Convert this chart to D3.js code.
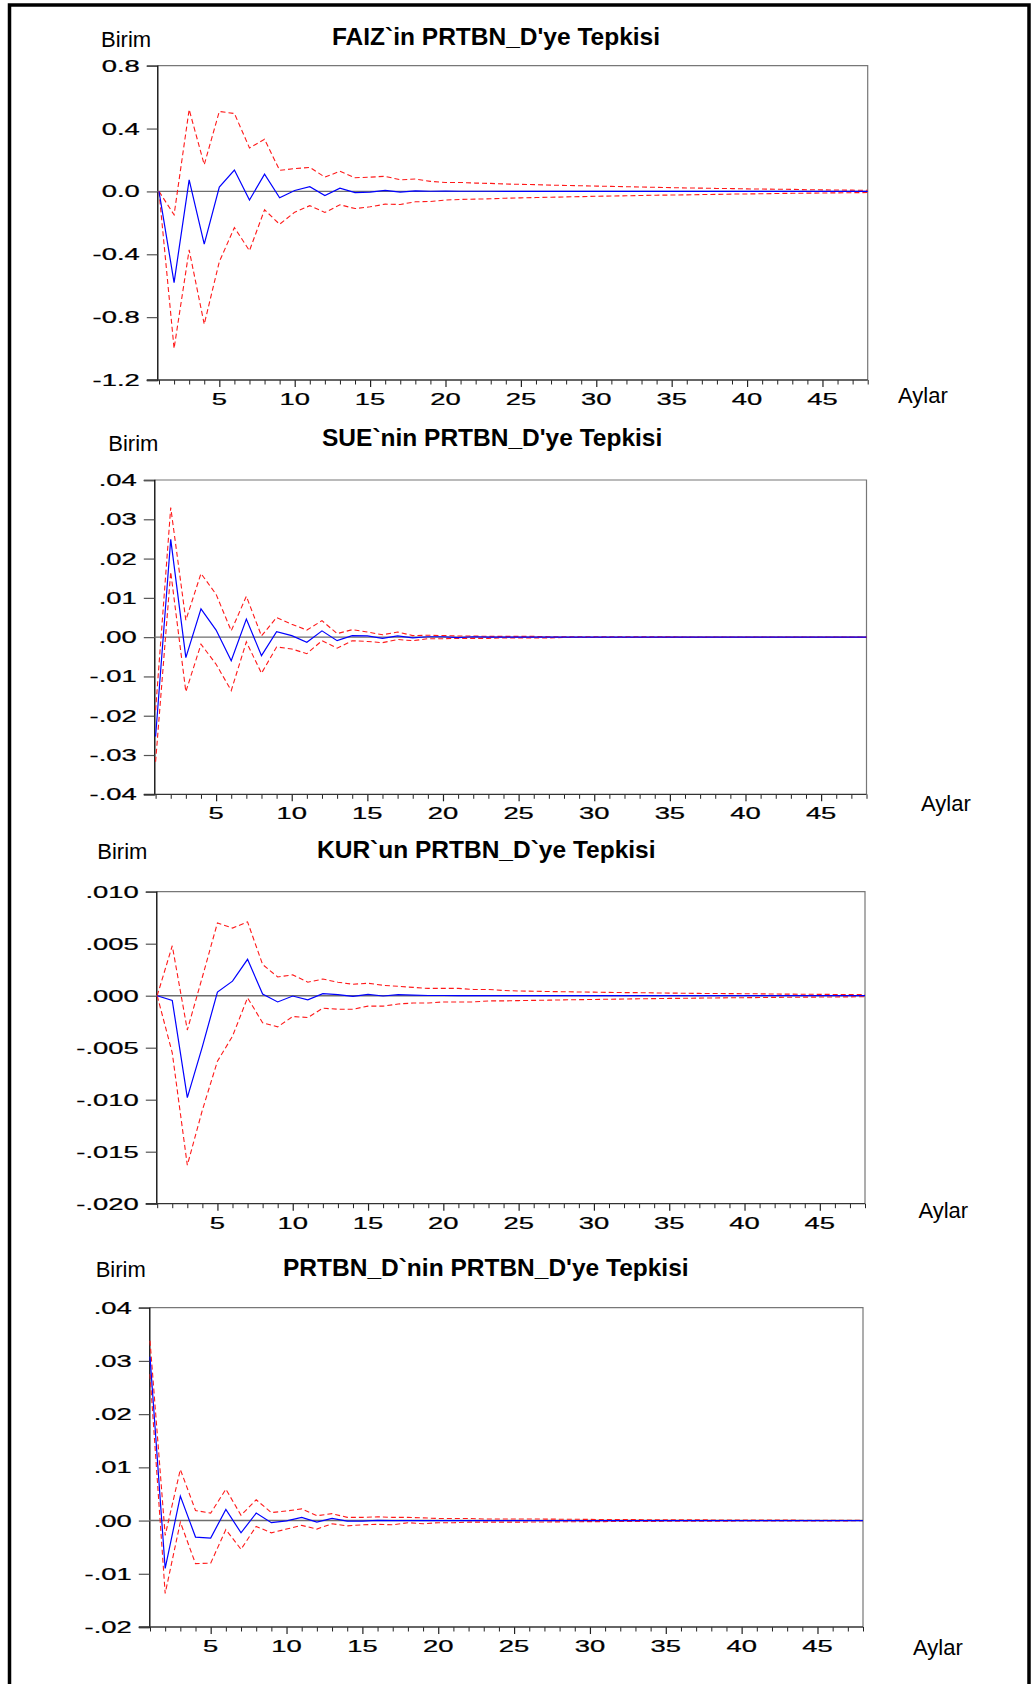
<!DOCTYPE html>
<html>
<head>
<meta charset="utf-8">
<script src="https://cdn.jsdelivr.net/npm/d3@7"></script>
<style>
  html, body { margin: 0; padding: 0; background: #fff; }
  svg { display: block; }
</style>
</head>
<body>
<svg id="chart" width="1035" height="1684"></svg>
<script>
// ---------------- DATA ----------------
const periods = [1,2,3,4,5,6,7,8,9,10,11,12,13,14,15,16,17,18,19,20,21,22,23,24,
                 25,26,27,28,29,30,31,32,33,34,35,36,37,38,39,40,41,42,43,44,45,46,47,48];
const xTickValues = [5,10,15,20,25,30,35,40,45];

const titles = ["FAIZ`in PRTBN_D'ye Tepkisi", "SUE`nin PRTBN_D'ye Tepkisi",
                "KUR`un PRTBN_D`ye Tepkisi", "PRTBN_D`nin PRTBN_D'ye Tepkisi"];
const yUnitLabel = "Birim";
const xUnitLabel = "Aylar";

// Panel 1: FAIZ
const faizTicks = [0.8, 0.4, 0.0, -0.4, -0.8, -1.2];
const faizTickLabels = ["0.8", "0.4", "0.0", "-0.4", "-0.8", "-1.2"];
const faizResp = [0, -0.58, 0.074, -0.336, 0.028, 0.136, -0.055, 0.11, -0.04, 0.006, 0.03, -0.026,
  0.021, -0.008, -0.004, 0.006, -0.004, 0.004, 0.001, 0.002, 0.001, 0.001, 0.001, 0.0005,
  0.0005, 0.0004, 0.0004, 0.0003, 0.0003, 0.0003, 0.0002, 0.0002, 0.0002, 0.0002, 0.0001, 0.0001,
  0.0001, 0.0001, 0.0001, 0.0001, 0.0001, 0, 0, 0, 0, 0, 0, 0];
const faizUpper = [0, -0.149, 0.521, 0.17, 0.509, 0.496, 0.277, 0.332, 0.134, 0.145, 0.153, 0.091,
  0.128, 0.087, 0.091, 0.096, 0.074, 0.079, 0.064, 0.057, 0.057, 0.053, 0.051, 0.047,
  0.045, 0.043, 0.040, 0.038, 0.036, 0.034, 0.032, 0.030, 0.028, 0.026, 0.024, 0.022,
  0.021, 0.019, 0.018, 0.016, 0.015, 0.014, 0.013, 0.011, 0.010, 0.009, 0.008, 0.007];
const faizLower = [0, -1.0, -0.372, -0.845, -0.447, -0.23, -0.377, -0.117, -0.209, -0.132, -0.091, -0.134,
  -0.085, -0.109, -0.098, -0.081, -0.083, -0.066, -0.064, -0.055, -0.051, -0.049, -0.047, -0.043,
  -0.041, -0.039, -0.037, -0.035, -0.033, -0.031, -0.029, -0.028, -0.026, -0.024, -0.023, -0.022,
  -0.020, -0.019, -0.017, -0.016, -0.015, -0.013, -0.012, -0.011, -0.010, -0.009, -0.008, -0.007];

// Panel 2: SUE
const sueTicks = [0.04, 0.03, 0.02, 0.01, 0.0, -0.01, -0.02, -0.03, -0.04];
const sueTickLabels = [".04", ".03", ".02", ".01", ".00", "-.01", "-.02", "-.03", "-.04"];
const sueResp = [-0.0253, 0.0249, -0.0052, 0.0072, 0.0018, -0.006, 0.0046, -0.0047, 0.0014, 0.0004, -0.0013, 0.0016,
  -0.0009, 0.0004, 0.0003, -0.0003, 0.0003, -0.0002, 0.0001, 0.0001, -0.0001, 0.0001, 0, 0,
  0, 0, 0, 0, 0, 0, 0, 0, 0, 0, 0, 0, 0, 0, 0, 0, 0, 0, 0, 0, 0, 0, 0, 0];
const sueUpper = [-0.0186, 0.033, 0.0043, 0.0162, 0.0109, 0.0016, 0.0104, 0.0003, 0.005, 0.0033, 0.0018, 0.0042,
  0.0009, 0.0019, 0.0013, 0.0006, 0.0013, 0.0004, 0.0005, 0.0004, 0.0003, 0.0003, 0.0002, 0.0002,
  0.0002, 0.0002, 0.0001, 0.0001, 0.0001, 0.0001, 0.0001, 0.0001, 0.00008, 0.00007, 0.00006, 0.00005,
  0.00005, 0.00004, 0.00004, 0.00003, 0.00003, 0.00003, 0.00002, 0.00002, 0.00002, 0.00002, 0.00001, 0.00001];
const sueLower = [-0.0317, 0.0166, -0.0139, -0.0018, -0.0069, -0.0136, -0.0012, -0.0092, -0.0025, -0.003, -0.0042, -0.0009,
  -0.0028, -0.0009, -0.0011, -0.0014, -0.0006, -0.0009, -0.0004, -0.0004, -0.0003, -0.0003, -0.0003, -0.0002,
  -0.0002, -0.0002, -0.0002, -0.0001, -0.0001, -0.0001, -0.0001, -0.0001, -0.00008, -0.00007, -0.00006, -0.00005,
  -0.00005, -0.00004, -0.00004, -0.00003, -0.00003, -0.00003, -0.00002, -0.00002, -0.00002, -0.00002, -0.00001, -0.00001];

// Panel 3: KUR
const kurTicks = [0.010, 0.005, 0.0, -0.005, -0.010, -0.015, -0.020];
const kurTickLabels = [".010", ".005", ".000", "-.005", "-.010", "-.015", "-.020"];
const kurResp = [0, -0.00045, -0.0098, -0.0049, 0.00035, 0.0014, 0.0035, 0.00016, -0.0006, -0.00003, -0.0004, 0.0002,
  0.0001, -0.00006, 0.00013, -0.00003, 0.0001, 0.00006, 0.00002, 0.00002, 0.00001, 0.00001, 0, 0,
  0, 0, 0, 0, 0, 0, 0, 0, 0, 0, 0, 0, 0, 0, 0, 0, 0, 0, 0, 0, 0, 0, 0, 0];
const kurUpper = [0, 0.0048, -0.0033, 0.0018, 0.007, 0.0065, 0.0071, 0.003, 0.0018, 0.002, 0.0013, 0.0016,
  0.0013, 0.0011, 0.0012, 0.001, 0.0009, 0.0008, 0.0007, 0.0007, 0.0007, 0.0006, 0.0006, 0.0005,
  0.00045, 0.00043, 0.0004, 0.00038, 0.00036, 0.00034, 0.00032, 0.0003, 0.00029, 0.00027, 0.00025, 0.00024,
  0.00022, 0.00021, 0.0002, 0.00019, 0.00018, 0.00016, 0.00015, 0.00014, 0.00013, 0.00012, 0.00011, 0.0001];
const kurLower = [0, -0.0055, -0.0163, -0.011, -0.0063, -0.0039, -0.0002, -0.0026, -0.003, -0.002, -0.0021, -0.0012,
  -0.0013, -0.0013, -0.001, -0.001, -0.0008, -0.0007, -0.0007, -0.0006, -0.0006, -0.0006, -0.0005, -0.0005,
  -0.00047, -0.00045, -0.00043, -0.0004, -0.00038, -0.00036, -0.00034, -0.00032, -0.0003, -0.00028, -0.00026, -0.00025,
  -0.00023, -0.00022, -0.0002, -0.00019, -0.00018, -0.00016, -0.00015, -0.00014, -0.00013, -0.00012, -0.00011, -0.0001];

// Panel 4: PRTBN_D
const prtTicks = [0.04, 0.03, 0.02, 0.01, 0.0, -0.01, -0.02];
const prtTickLabels = [".04", ".03", ".02", ".01", ".00", "-.01", "-.02"];
const prtResp = [0.0308, -0.009, 0.0046, -0.0031, -0.0033, 0.0021, -0.0023, 0.0014, -0.0004, -0.00006, 0.0006, -0.0003,
  0.0004, -0.0001, -0.0001, 0.00005, 0, 0, 0, 0, 0, 0, 0, 0,
  0, 0, 0, 0, 0, 0, 0, 0, 0, 0, 0, 0, 0, 0, 0, 0, 0, 0, 0, 0, 0, 0, 0, 0];
const prtUpper = [0.0338, -0.0028, 0.0096, 0.0019, 0.0014, 0.0059, 0.001, 0.0039, 0.0015, 0.0018, 0.0022, 0.0009,
  0.0013, 0.0006, 0.0006, 0.0007, 0.0006, 0.0006, 0.0005, 0.0004, 0.0004, 0.0004, 0.0003, 0.0003,
  0.0003, 0.0003, 0.00028, 0.00026, 0.00024, 0.00022, 0.0002, 0.00019, 0.00017, 0.00016, 0.00015, 0.00014,
  0.00013, 0.00012, 0.00011, 0.0001, 0.00009, 0.00008, 0.00008, 0.00007, 0.00006, 0.00006, 0.00005, 0.00005];
const prtLower = [0.0275, -0.0137, -0.0003, -0.0081, -0.008, -0.0017, -0.0054, -0.0011, -0.0023, -0.0016, -0.0009, -0.0016,
  -0.0006, -0.001, -0.0008, -0.0007, -0.0008, -0.0004, -0.0006, -0.0004, -0.0004, -0.0003, -0.0003, -0.0003,
  -0.0003, -0.00028, -0.00026, -0.00024, -0.00022, -0.0002, -0.00019, -0.00017, -0.00016, -0.00015, -0.00014, -0.00013,
  -0.00012, -0.00011, -0.0001, -0.00009, -0.00008, -0.00008, -0.00007, -0.00006, -0.00006, -0.00005, -0.00005, -0.00004];

// ---------------- LAYOUT ----------------
const panels = [
  { title: titles[0], ticks: faizTicks, tickLabels: faizTickLabels, resp: faizResp, up: faizUpper, lo: faizLower,
    left: 157.3, x0: 159, right: 867.7, top: 65.7, bottom: 380, titleX: 332, titleY: 45,
    birimX: 101, birimY: 46.7, aylarX: 898, aylarY: 402.7 },
  { title: titles[1], ticks: sueTicks, tickLabels: sueTickLabels, resp: sueResp, up: sueUpper, lo: sueLower,
    left: 154.3, x0: 155.6, right: 866.5, top: 480, bottom: 794.3, titleX: 322, titleY: 446,
    birimX: 108.3, birimY: 451, aylarX: 921, aylarY: 810.7 },
  { title: titles[2], ticks: kurTicks, tickLabels: kurTickLabels, resp: kurResp, up: kurUpper, lo: kurLower,
    left: 156.3, x0: 157.2, right: 865, top: 891.7, bottom: 1203.7, titleX: 317, titleY: 857.7,
    birimX: 97.3, birimY: 859, aylarX: 918.4, aylarY: 1218.3 },
  { title: titles[3], ticks: prtTicks, tickLabels: prtTickLabels, resp: prtResp, up: prtUpper, lo: prtLower,
    left: 149.3, x0: 150, right: 863, top: 1307.7, bottom: 1627, titleX: 283, titleY: 1276,
    birimX: 95.7, birimY: 1276.7, aylarX: 913, aylarY: 1655 }
];

const FONT = "'Liberation Sans', Arial, Helvetica, sans-serif";
const TICK_FS = 16.5;
const STRETCH = 1.66;

const svg = d3.select("#chart");

// Outer frame (open at the bottom)
svg.append("path")
  .attr("d", "M9.5,1684 V5 H1029 V1684")
  .attr("fill", "none")
  .attr("stroke", "#000")
  .attr("stroke-width", 3.5);

panels.forEach(p => {
  const g = svg.append("g");
  const x = d3.scaleLinear().domain([1, 48]).range([p.x0, p.right]);
  const yMin = d3.min(p.ticks), yMax = d3.max(p.ticks);
  const y = d3.scaleLinear().domain([yMin, yMax]).range([p.bottom, p.top]);

  // frame top & right (gray)
  g.append("path")
    .attr("d", `M${p.left},${p.top} H${p.right} V${p.bottom}`)
    .attr("fill", "none").attr("stroke", "#777").attr("stroke-width", 1.2);

  // y axis
  const yAxis = d3.axisLeft(y).tickValues(p.ticks).tickSize(10.5).tickFormat(() => "");
  const ya = g.append("g").attr("transform", `translate(${p.left},0)`).call(yAxis);
  ya.select(".domain").attr("stroke", "#000").attr("stroke-width", 1.3);
  ya.selectAll(".tick line").attr("stroke", "#555").attr("stroke-width", 1.2);

  // y tick labels (wide font)
  p.ticks.forEach((t, i) => {
    g.append("text")
      .attr("transform", `translate(${p.left - 17.5},${y(t) + TICK_FS * 0.36}) scale(${STRETCH},1)`)
      .attr("text-anchor", "end")
      .attr("font-family", FONT)
      .attr("font-size", TICK_FS)
      .attr("fill", "#000")
      .attr("stroke", "#000").attr("stroke-width", 0.25)
      .text(p.tickLabels[i]);
  });

  // x axis: minor ticks every period, major at multiples of 5
  const xAxisMinor = d3.axisBottom(x).tickValues(periods.filter(v => v % 5 !== 0)).tickSize(4.5).tickFormat(() => "");
  const xaMin = g.append("g").attr("transform", `translate(0,${p.bottom})`).call(xAxisMinor);
  xaMin.select(".domain").remove();
  xaMin.selectAll(".tick line").attr("stroke", "#222").attr("stroke-width", 1);

  const xAxisMajor = d3.axisBottom(x).tickValues(xTickValues).tickSize(7).tickFormat(() => "");
  const xaMaj = g.append("g").attr("transform", `translate(0,${p.bottom})`).call(xAxisMajor);
  xaMaj.select(".domain").remove();
  xaMaj.selectAll(".tick line").attr("stroke", "#222").attr("stroke-width", 1.2);

  g.append("line")
    .attr("x1", p.left - 10.5).attr("x2", p.right)
    .attr("y1", p.bottom).attr("y2", p.bottom)
    .attr("stroke", "#333").attr("stroke-width", 1.3);

  xTickValues.forEach(v => {
    g.append("text")
      .attr("transform", `translate(${x(v)},${p.bottom + 25}) scale(${STRETCH},1)`)
      .attr("text-anchor", "middle")
      .attr("font-family", FONT)
      .attr("font-size", TICK_FS)
      .attr("fill", "#000")
      .attr("stroke", "#000").attr("stroke-width", 0.25)
      .text(v);
  });

  // zero line
  g.append("line")
    .attr("x1", p.left).attr("x2", p.right)
    .attr("y1", y(0)).attr("y2", y(0))
    .attr("stroke", "#6e6e6e").attr("stroke-width", 1.4);

  const line = d3.line().x((d, i) => x(periods[i])).y(d => y(d));

  // confidence bands
  [p.up, p.lo].forEach(series => {
    g.append("path")
      .attr("d", line(series))
      .attr("fill", "none")
      .attr("stroke", "#ff1a1a")
      .attr("stroke-width", 1.1)
      .attr("stroke-dasharray", "5,3");
  });

  // response
  g.append("path")
    .attr("d", line(p.resp))
    .attr("fill", "none")
    .attr("stroke", "#0000ff")
    .attr("stroke-width", 1.2);

  // titles and unit labels
  g.append("text")
    .attr("x", p.titleX).attr("y", p.titleY)
    .attr("font-family", FONT).attr("font-weight", "bold").attr("font-size", 24.5)
    .attr("fill", "#000")
    .text(p.title);

  g.append("text")
    .attr("x", p.birimX).attr("y", p.birimY)
    .attr("font-family", FONT).attr("font-size", 22)
    .attr("fill", "#000")
    .text(yUnitLabel);

  g.append("text")
    .attr("x", p.aylarX).attr("y", p.aylarY)
    .attr("font-family", FONT).attr("font-size", 22)
    .attr("fill", "#000")
    .text(xUnitLabel);
});
</script>
</body>
</html>
